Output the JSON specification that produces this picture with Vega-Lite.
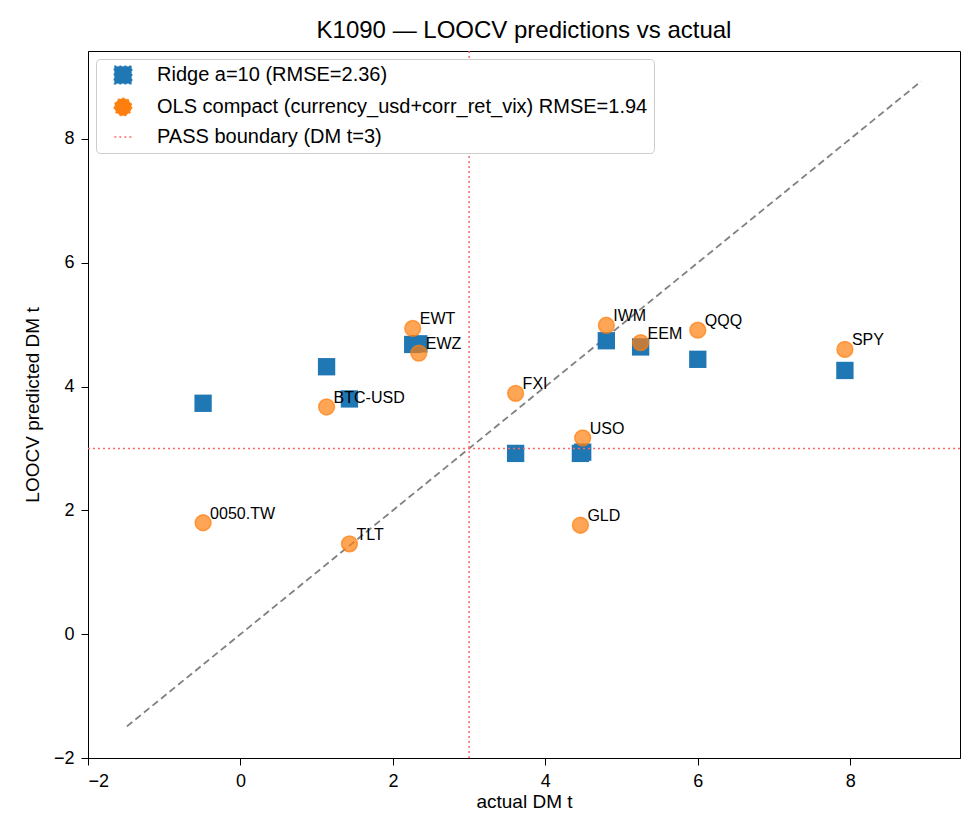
{
  "$schema": "https://vega.github.io/schema/vega-lite/v6.json",
  "width": 872,
  "height": 707,
  "padding": {"left": 23, "top": 19, "right": 5, "bottom": 5},
  "title": {"text": "K1090 — LOOCV predictions vs actual", "fontSize": 24, "fontWeight": "normal", "color": "black", "anchor": "middle", "offset": 7},
  "config": {
    "font": "Liberation Sans",
    "view": {"stroke": "black", "strokeWidth": 1},
    "axis": {"grid": false, "labelFontSize": 18, "titleFontSize": 19, "titleFontWeight": "normal", "labelColor": "black", "titleColor": "black", "tickColor": "black", "domainColor": "black", "tickSize": 7, "labelPadding": 7, "format": "d"},
    "axisY": {"titlePadding": 11},
    "axisX": {"titlePadding": 2},
    "legend": {"labelFontSize": 20, "labelColor": "black", "title": null, "orient": "top-left", "offset": 8, "padding": 6, "strokeColor": "#cccccc", "fillColor": "white", "cornerRadius": 4, "rowPadding": 8, "symbolSize": 300, "symbolOffset": 11, "labelOffset": 24, "symbolStrokeWidth": 1.5, "symbolDash": [2, 3], "labelLimit": 700}
  },
  "datasets": {
    "preds": [
      {"ticker": "0050.TW", "actual": -0.49, "pred": 3.73, "series": "Ridge a=10 (RMSE=2.36)"},
      {"ticker": "TLT", "actual": 1.43, "pred": 3.80, "series": "Ridge a=10 (RMSE=2.36)"},
      {"ticker": "BTC-USD", "actual": 1.13, "pred": 4.32, "series": "Ridge a=10 (RMSE=2.36)"},
      {"ticker": "EWT", "actual": 2.26, "pred": 4.68, "series": "Ridge a=10 (RMSE=2.36)"},
      {"ticker": "EWZ", "actual": 2.34, "pred": 4.69, "series": "Ridge a=10 (RMSE=2.36)"},
      {"ticker": "FXI", "actual": 3.61, "pred": 2.92, "series": "Ridge a=10 (RMSE=2.36)"},
      {"ticker": "USO", "actual": 4.49, "pred": 2.94, "series": "Ridge a=10 (RMSE=2.36)"},
      {"ticker": "GLD", "actual": 4.46, "pred": 2.92, "series": "Ridge a=10 (RMSE=2.36)"},
      {"ticker": "IWM", "actual": 4.80, "pred": 4.74, "series": "Ridge a=10 (RMSE=2.36)"},
      {"ticker": "EEM", "actual": 5.25, "pred": 4.64, "series": "Ridge a=10 (RMSE=2.36)"},
      {"ticker": "QQQ", "actual": 6.00, "pred": 4.44, "series": "Ridge a=10 (RMSE=2.36)"},
      {"ticker": "SPY", "actual": 7.93, "pred": 4.26, "series": "Ridge a=10 (RMSE=2.36)"},
      {"ticker": "0050.TW", "actual": -0.49, "pred": 1.80, "series": "OLS compact (currency_usd+corr_ret_vix) RMSE=1.94"},
      {"ticker": "TLT", "actual": 1.43, "pred": 1.46, "series": "OLS compact (currency_usd+corr_ret_vix) RMSE=1.94"},
      {"ticker": "BTC-USD", "actual": 1.13, "pred": 3.67, "series": "OLS compact (currency_usd+corr_ret_vix) RMSE=1.94"},
      {"ticker": "EWT", "actual": 2.26, "pred": 4.94, "series": "OLS compact (currency_usd+corr_ret_vix) RMSE=1.94"},
      {"ticker": "EWZ", "actual": 2.34, "pred": 4.54, "series": "OLS compact (currency_usd+corr_ret_vix) RMSE=1.94"},
      {"ticker": "FXI", "actual": 3.61, "pred": 3.89, "series": "OLS compact (currency_usd+corr_ret_vix) RMSE=1.94"},
      {"ticker": "USO", "actual": 4.49, "pred": 3.17, "series": "OLS compact (currency_usd+corr_ret_vix) RMSE=1.94"},
      {"ticker": "GLD", "actual": 4.46, "pred": 1.76, "series": "OLS compact (currency_usd+corr_ret_vix) RMSE=1.94"},
      {"ticker": "IWM", "actual": 4.80, "pred": 4.99, "series": "OLS compact (currency_usd+corr_ret_vix) RMSE=1.94"},
      {"ticker": "EEM", "actual": 5.25, "pred": 4.71, "series": "OLS compact (currency_usd+corr_ret_vix) RMSE=1.94"},
      {"ticker": "QQQ", "actual": 6.00, "pred": 4.91, "series": "OLS compact (currency_usd+corr_ret_vix) RMSE=1.94"},
      {"ticker": "SPY", "actual": 7.93, "pred": 4.60, "series": "OLS compact (currency_usd+corr_ret_vix) RMSE=1.94"}
    ],
    "diag": [
      {"actual": -1.49, "pred": -1.49},
      {"actual": 8.93, "pred": 8.93}
    ],
    "bound": [
      {"v": 3, "series": "PASS boundary (DM t=3)"}
    ]
  },
  "layer": [
    {
      "data": {"name": "diag"},
      "mark": {"type": "line", "color": "#808080", "strokeDash": [7, 4], "strokeWidth": 1.8},
      "encoding": {
        "x": {"field": "actual", "type": "quantitative", "scale": {"domain": [-2, 9.44], "nice": false, "zero": false}, "axis": {"values": [-2, 0, 2, 4, 6, 8], "title": "actual DM t"}},
        "y": {"field": "pred", "type": "quantitative", "scale": {"domain": [-2, 9.42], "nice": false, "zero": false}, "axis": {"values": [-2, 0, 2, 4, 6, 8], "title": "LOOCV predicted DM t"}}
      }
    },
    {
      "data": {"name": "preds"},
      "transform": [{"filter": "datum.series === 'Ridge a=10 (RMSE=2.36)'"}],
      "mark": {"type": "point", "filled": true, "opacity": 1, "size": 300},
      "encoding": {
        "x": {"field": "actual", "type": "quantitative"},
        "y": {"field": "pred", "type": "quantitative"},
        "color": {"field": "series", "type": "nominal",
          "scale": {"domain": ["Ridge a=10 (RMSE=2.36)", "OLS compact (currency_usd+corr_ret_vix) RMSE=1.94", "PASS boundary (DM t=3)"], "range": ["#1f77b4", "#ff7f0e", "#ff6666"]}},
        "shape": {"field": "series", "type": "nominal",
          "scale": {"domain": ["Ridge a=10 (RMSE=2.36)", "OLS compact (currency_usd+corr_ret_vix) RMSE=1.94", "PASS boundary (DM t=3)"], "range": ["square", "circle", "stroke"]}}
      }
    },
    {
      "data": {"name": "preds"},
      "transform": [{"filter": "datum.series !== 'Ridge a=10 (RMSE=2.36)'"}],
      "mark": {"type": "point", "filled": true, "opacity": 1, "size": 250, "fillOpacity": 0.7, "stroke": "#ff7f0e", "strokeOpacity": 0.7, "strokeWidth": 1.5},
      "encoding": {
        "x": {"field": "actual", "type": "quantitative"},
        "y": {"field": "pred", "type": "quantitative"},
        "color": {"field": "series", "type": "nominal"},
        "shape": {"field": "series", "type": "nominal"}
      }
    },
    {
      "data": {"name": "preds"},
      "transform": [{"filter": "datum.series !== 'Ridge a=10 (RMSE=2.36)'"}],
      "mark": {"type": "text", "align": "left", "baseline": "alphabetic", "dx": 7, "dy": -4, "fontSize": 16, "color": "black"},
      "encoding": {
        "x": {"field": "actual", "type": "quantitative"},
        "y": {"field": "pred", "type": "quantitative"},
        "text": {"field": "ticker", "type": "nominal"}
      }
    },
    {
      "data": {"name": "bound"},
      "mark": {"type": "rule", "strokeWidth": 1.5, "strokeDash": [2, 3]},
      "encoding": {
        "x": {"field": "v", "type": "quantitative"},
        "color": {"field": "series", "type": "nominal"}
      }
    },
    {
      "data": {"name": "bound"},
      "mark": {"type": "rule", "strokeWidth": 1.5, "strokeDash": [2, 3]},
      "encoding": {
        "y": {"field": "v", "type": "quantitative"},
        "color": {"field": "series", "type": "nominal"}
      }
    }
  ]
}
